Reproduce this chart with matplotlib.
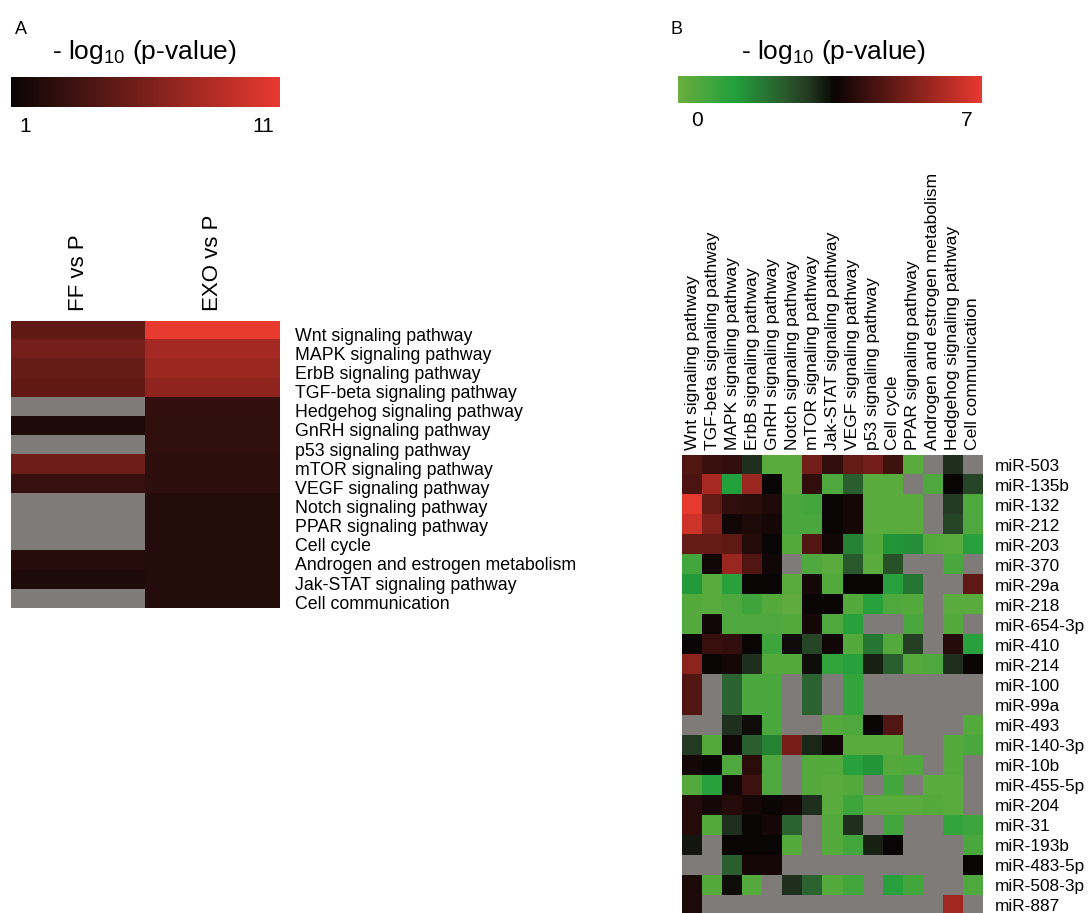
import numpy as np
import matplotlib
matplotlib.use('Agg')
import matplotlib.pyplot as plt
from matplotlib.colors import LinearSegmentedColormap

plt.rcParams['font.family'] = ['Liberation Sans', 'DejaVu Sans']
plt.rcParams['mathtext.default'] = 'regular'

G = np.nan
GRAY = '#7f7b78'

# 面板 A 数据
a_columns = ['FF vs P', 'EXO vs P']
a_pathways = ['Wnt signaling pathway', 'MAPK signaling pathway', 'ErbB signaling pathway',
              'TGF-beta signaling pathway', 'Hedgehog signaling pathway', 'GnRH signaling pathway',
              'p53 signaling pathway', 'mTOR signaling pathway', 'VEGF signaling pathway',
              'Notch signaling pathway', 'PPAR signaling pathway', 'Cell cycle',
              'Androgen and estrogen metabolism', 'Jak-STAT signaling pathway', 'Cell communication']
ff_vs_p = [4.9, 5.9, 5.2, 4.9, G, 1.9, G, 5.5, 3.0, G, G, G, 2.3, 1.9, G]
exo_vs_p = [11.0, 7.9, 7.5, 7.0, 2.8, 2.7, 2.7, 2.6, 2.6, 2.2, 2.2, 2.2, 2.2, 2.2, 2.2]

# 面板 B 数据
b_pathways = ['Wnt signaling pathway', 'TGF-beta signaling pathway', 'MAPK signaling pathway',
              'ErbB signaling pathway', 'GnRH signaling pathway', 'Notch signaling pathway',
              'mTOR signaling pathway', 'Jak-STAT signaling pathway', 'VEGF signaling pathway',
              'p53 signaling pathway', 'Cell cycle', 'PPAR signaling pathway',
              'Androgen and estrogen metabolism', 'Hedgehog signaling pathway', 'Cell communication']
b_mirnas = ['miR-503', 'miR-135b', 'miR-132', 'miR-212', 'miR-203', 'miR-370', 'miR-29a',
            'miR-218', 'miR-654-3p', 'miR-410', 'miR-214', 'miR-100', 'miR-99a', 'miR-493',
            'miR-140-3p', 'miR-10b', 'miR-455-5p', 'miR-204', 'miR-31', 'miR-193b',
            'miR-483-5p', 'miR-508-3p', 'miR-887']
b_values = [
    [4.7, 4.3, 4.2, 3.1, 0.3, 0.3, 5.2, 4.2, 5.0, 5.2, 4.4, 0.3, G, 3.1, G],
    [4.6, 6.0, 1.3, 5.8, 3.6, 0.3, 4.2, 0.5, 2.4, 0.3, 0.3, G, 0.5, 3.6, 2.8],
    [7.0, 5.0, 4.2, 4.1, 3.9, 0.6, 0.7, 3.6, 3.8, 0.3, 0.3, 0.3, G, 3.0, 0.5],
    [6.6, 5.4, 3.7, 3.9, 3.8, 0.6, 0.6, 3.6, 3.8, 0.3, 0.3, 0.3, G, 2.8, 0.5],
    [5.0, 5.0, 4.9, 4.0, 3.6, 0.4, 4.7, 3.7, 1.8, 0.4, 1.5, 1.6, 0.4, 0.3, 1.2],
    [0.7, 3.7, 5.8, 4.7, 3.7, G, 0.5, 0.3, 2.5, 0.3, 2.6, G, G, 0.6, G],
    [1.4, 0.3, 1.2, 3.6, 3.6, 0.3, 3.8, 0.4, 3.6, 3.6, 1.2, 2.0, G, G, 4.9],
    [0.4, 0.3, 0.5, 0.8, 0.4, 0.2, 3.6, 3.6, 0.4, 1.2, 0.5, 0.4, G, 0.3, 0.3],
    [0.4, 3.7, 0.5, 0.5, 0.5, 0.4, 3.8, 0.5, 1.2, G, G, 0.6, G, 0.4, G],
    [3.6, 4.3, 4.2, 3.6, 0.8, 3.5, 2.8, 3.7, 0.4, 2.0, 0.4, 2.9, G, 4.0, 1.2],
    [5.6, 3.6, 3.8, 3.1, 0.4, 0.4, 3.5, 1.0, 1.2, 3.3, 2.4, 0.4, 0.5, 3.1, 3.6],
    [4.7, G, 2.3, 0.6, 0.6, G, 2.3, G, 1.0, G, G, G, G, G, G],
    [4.7, G, 2.3, 0.6, 0.6, G, 2.3, G, 1.0, G, G, G, G, G, G],
    [G, G, 3.1, 3.5, 0.6, G, G, 0.4, 0.5, 3.6, 4.7, G, G, G, 0.4],
    [3.0, 0.4, 3.7, 2.4, 1.8, 5.3, 3.2, 3.7, 0.3, 0.3, 0.3, G, G, 0.4, 0.6],
    [3.8, 3.6, 0.5, 4.1, 0.5, G, 0.4, 0.4, 1.2, 1.5, 0.4, 0.5, G, 0.4, G],
    [0.4, 1.2, 3.7, 4.4, 0.5, G, 0.4, 0.3, 0.4, G, 0.7, G, 0.3, 0.3, G],
    [4.0, 3.8, 4.0, 3.8, 3.6, 3.8, 3.1, 0.3, 0.8, 0.3, 0.3, 0.3, 0.4, 0.3, G],
    [4.0, 0.4, 3.1, 3.6, 3.8, 2.3, G, 0.4, 3.1, G, 0.7, G, G, 1.0, 0.8],
    [3.4, G, 3.6, 3.6, 3.6, 0.4, G, 0.4, 0.7, 3.3, 3.6, G, G, G, 0.6],
    [G, G, 2.4, 3.8, 3.8, G, G, G, G, G, G, G, G, G, 3.6],
    [3.9, 0.4, 3.5, 0.4, G, 3.1, 2.3, 0.4, 0.7, G, 1.2, 0.7, G, G, 0.5],
    [3.9, G, G, G, G, G, G, G, G, G, G, G, G, 5.9, G],
]

# 颜色映射
cmap_a = LinearSegmentedColormap.from_list('a', ['#0a0606', '#e8392f'])
cmap_a.set_bad(GRAY)
cmap_b = LinearSegmentedColormap.from_list(
    'b', [(0, '#6aae3e'), (1.3 / 7, '#22a03c'), (2.4 / 7, '#2b5e2e'),
          (3.0 / 7, '#233a22'), (3.6 / 7, '#0a0505'), (1, '#e8392f')])
cmap_b.set_bad(GRAY)

W, H = 1090, 913
fig = plt.figure(figsize=(W / 100, H / 100), dpi=100)


def px_axes(x0, y0, x1, y1):
    return fig.add_axes([x0 / W, (H - y1) / H, (x1 - x0) / W, (y1 - y0) / H])


title = '- log$_{10}$ (p-value)'

# ---------- 面板 A ----------
fig.text(15 / W, 1 - 29 / H, 'A', fontsize=13, va='center', ha='left')
fig.text(144 / W, 1 - 52 / H, title, fontsize=19, ha='center', va='center')
cax_a = px_axes(11, 77, 279, 107)
cax_a.imshow(np.linspace(1, 11, 256)[None, :], cmap=cmap_a, aspect='auto', vmin=1, vmax=11)
cax_a.axis('off')
fig.text(25 / W, 1 - 127 / H, '1', fontsize=15, ha='center', va='center')
fig.text(263 / W, 1 - 127 / H, '11', fontsize=15, ha='center', va='center')

ax_a = px_axes(11, 321, 279, 608)
data_a = np.ma.masked_invalid(np.array([ff_vs_p, exo_vs_p]).T)
ax_a.imshow(data_a, cmap=cmap_a, vmin=1, vmax=11, aspect='auto', interpolation='nearest')
ax_a.set_xticks(range(len(a_columns)))
ax_a.set_xticklabels(a_columns, rotation=90, fontsize=16)
ax_a.xaxis.tick_top()
ax_a.tick_params(axis='x', length=0, pad=7)
ax_a.set_yticks([])
ax_a.set_xlim(-0.5, 1.5)
# 行标签放在热图右侧，略向下偏
for i, name in enumerate(a_pathways):
    ax_a.text(1.5 + 16 / 134, i + 0.3, name, fontsize=12.8, va='center', ha='left',
              clip_on=False)
for s in ax_a.spines.values():
    s.set_visible(False)

# ---------- 面板 B ----------
fig.text(670 / W, 1 - 29 / H, 'B', fontsize=13, va='center', ha='left')
fig.text(833 / W, 1 - 52 / H, title, fontsize=19, ha='center', va='center')
cax_b = px_axes(678, 76, 982, 103)
cax_b.imshow(np.linspace(0, 7, 256)[None, :], cmap=cmap_b, aspect='auto', vmin=0, vmax=7)
cax_b.axis('off')
fig.text(697 / W, 1 - 121 / H, '0', fontsize=15, ha='center', va='center')
fig.text(967 / W, 1 - 121 / H, '7', fontsize=15, ha='center', va='center')

ax_b = px_axes(682, 455, 983, 915)
data_b = np.ma.masked_invalid(np.array(b_values))
ax_b.imshow(data_b, cmap=cmap_b, vmin=0, vmax=7, aspect='auto', interpolation='nearest')
ax_b.set_xticks(range(len(b_pathways)))
ax_b.set_xticklabels(b_pathways, rotation=90, fontsize=12.6)
ax_b.xaxis.tick_top()
ax_b.set_yticks(range(len(b_mirnas)))
ax_b.set_yticklabels(b_mirnas, fontsize=12.4)
ax_b.yaxis.tick_right()
ax_b.tick_params(axis='x', length=0, pad=3.5)
ax_b.tick_params(axis='y', length=0, pad=8.5)
for s in ax_b.spines.values():
    s.set_visible(False)

fig.savefig('out.png', dpi=100, facecolor='white')
